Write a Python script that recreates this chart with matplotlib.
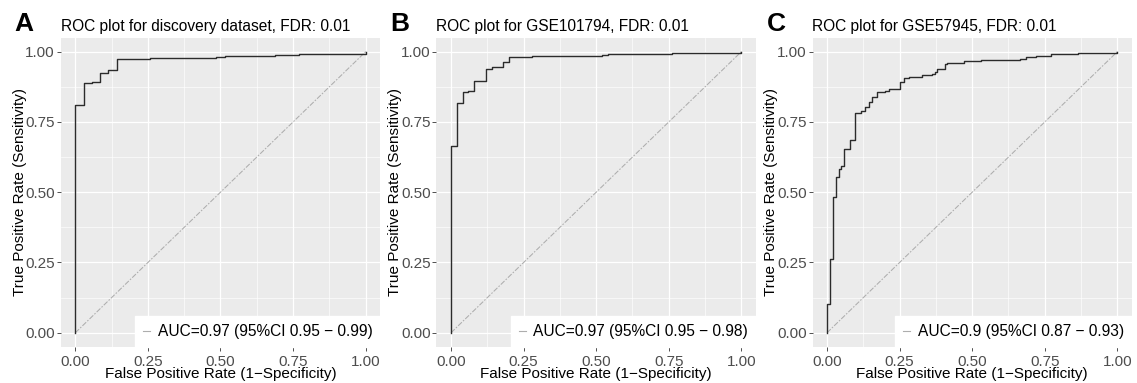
import matplotlib
matplotlib.use("Agg")
import matplotlib.pyplot as plt
from matplotlib.lines import Line2D
from matplotlib.ticker import MultipleLocator

plt.rcParams['font.family'] = ['Liberation Sans', 'DejaVu Sans']

# ROC step corners (FPR, TPR)
fpr_a = [0, 0, 0.029, 0.057, 0.086, 0.114, 0.143, 0.257, 0.486, 0.514, 0.686, 0.771, 1.0, 1.0]
tpr_a = [0, 0.810, 0.888, 0.893, 0.925, 0.935, 0.973, 0.976, 0.982, 0.985, 0.989, 0.993, 0.997, 1.0]

fpr_b = [0, 0, 0.020, 0.040, 0.060, 0.080, 0.120, 0.140, 0.180, 0.200, 0.280, 0.520, 0.540, 0.760, 1.0, 1.0]
tpr_b = [0, 0.665, 0.816, 0.855, 0.861, 0.897, 0.937, 0.947, 0.962, 0.982, 0.985, 0.988, 0.991, 0.995, 0.998, 1.0]

fpr_c = [0, 0, 0.010, 0.0195, 0.031, 0.040, 0.048, 0.060, 0.078, 0.0975, 0.117, 0.132, 0.143,
         0.155, 0.172, 0.201, 0.212, 0.252, 0.264, 0.281, 0.327, 0.360, 0.372, 0.378, 0.406,
         0.414, 0.473, 0.530, 0.665, 0.685, 0.720, 0.770, 0.865, 1.0]
tpr_c = [0, 0.101, 0.261, 0.482, 0.555, 0.583, 0.594, 0.653, 0.686, 0.781, 0.789, 0.804, 0.822,
         0.840, 0.855, 0.861, 0.868, 0.891, 0.905, 0.911, 0.917, 0.920, 0.927, 0.937, 0.956,
         0.961, 0.966, 0.970, 0.975, 0.980, 0.986, 0.991, 0.994, 0.999]

panel_letters = ["A", "B", "C"]
titles = ["ROC plot for discovery dataset, FDR: 0.01",
          "ROC plot for GSE101794, FDR: 0.01",
          "ROC plot for GSE57945, FDR: 0.01"]
auc_labels = ["AUC=0.97 (95%CI 0.95 \u2212 0.99)",
              "AUC=0.97 (95%CI 0.95 \u2212 0.98)",
              "AUC=0.9 (95%CI 0.87 \u2212 0.93)"]
tick_vals = [0.0, 0.25, 0.5, 0.75, 1.0]
tick_labels = ["0.00", "0.25", "0.50", "0.75", "1.00"]

W, H = 1137, 383
fig = plt.figure(figsize=(W / 100, H / 100), dpi=100)

# panel geometry in pixels
LEFTS = [60.8, 436.5, 812.5]
PW = 319.4
BOTTOM = 36.2
PH = 309.2

curves = [(fpr_a, tpr_a), (fpr_b, tpr_b), (fpr_c, tpr_c)]

for i, (fpr, tpr) in enumerate(curves):
    ax = fig.add_axes([LEFTS[i] / W, BOTTOM / H, PW / W, PH / H])
    ax.set_facecolor("#EBEBEB")
    for s in ax.spines.values():
        s.set_visible(False)
    ax.set_xlim(-0.05, 1.05)
    ax.set_ylim(-0.05, 1.05)

    # grid like ggplot theme_grey
    ax.xaxis.set_minor_locator(MultipleLocator(0.125))
    ax.yaxis.set_minor_locator(MultipleLocator(0.125))
    ax.grid(which="major", color="white", lw=0.9)
    ax.grid(which="minor", color="white", lw=0.45)
    ax.set_axisbelow(True)
    ax.tick_params(which="minor", length=0)

    ax.set_xticks(tick_vals)
    ax.set_xticklabels(tick_labels)
    ax.set_yticks(tick_vals)
    ax.set_yticklabels(tick_labels)
    ax.tick_params(which="major", length=2.8, width=0.6, color="#333333",
                   labelcolor="#4D4D4D", labelsize=11, pad=1.5)
    ax.tick_params(axis="x", pad=3)

    diag, = ax.plot([0, 1], [0, 1], color="#ADADAD", lw=0.75, ls=(0, (5, 1.5, 1.5, 1.5)))
    ax.plot(fpr, tpr, drawstyle="steps-post", color="#2B2B2B", lw=1.0)

    key = Line2D([], [], color="#ADADAD", lw=0.8)
    leg = ax.legend([key], [auc_labels[i]], loc="lower right", borderaxespad=0,
                    fontsize=11.2, frameon=True, fancybox=False, framealpha=1,
                    edgecolor="white", facecolor="white", handlelength=0.45,
                    handletextpad=0.5, borderpad=0.5)

    ax.set_xlabel("False Positive Rate (1\u2212Specificity)", fontsize=11, labelpad=-1)
    ax.set_ylabel("True Positive Rate (Sensitivity)", fontsize=11, labelpad=-1)
    ax.set_title(titles[i], loc="left", fontsize=11.2, pad=4.5)

    fig.text((LEFTS[i] - 46) / W, (H - 31) / H, panel_letters[i], fontsize=19,
             fontweight="bold", ha="left", va="baseline")

fig.savefig("out.png", dpi=100)
